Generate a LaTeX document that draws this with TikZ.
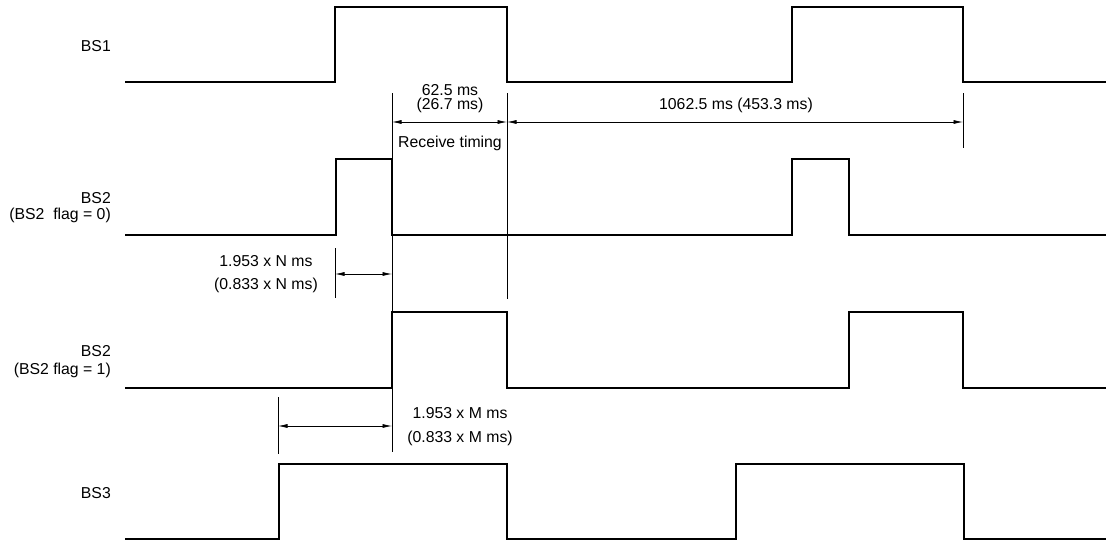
\documentclass[tikz,border=0pt]{standalone}
\usepackage{fontspec}
\setmainfont{Liberation Sans}
\usetikzlibrary{arrows.meta}
\begin{document}
\begin{tikzpicture}[x=1pt,y=-1pt,
  sig/.style={line width=1.5pt,line join=miter},
  ext/.style={line width=0.8pt},
  dim/.style={line width=0.7pt,{Latex[length=9.5pt,width=4pt]}-{Latex[length=9.5pt,width=4pt]}},
  lbl/.style={font=\fontsize{15.8}{18}\selectfont,inner sep=0pt,anchor=base east},
  txt/.style={font=\fontsize{15.8}{18}\selectfont,inner sep=0pt,anchor=base}]
\useasboundingbox (0,0) rectangle (1106,541);
% signals
\draw[sig] (125,82) -- (335,82) -- (335,7) -- (507,7) -- (507,82) -- (792,82) -- (792,7) -- (963,7) -- (963,82) -- (1106,82);
\draw[sig] (125,235) -- (336,235) -- (336,159) -- (392,159) -- (392,235) -- (792,235) -- (792,159) -- (849,159) -- (849,235) -- (1106,235);
\draw[sig] (125,388) -- (392,388) -- (392,312) -- (507,312) -- (507,388) -- (849,388) -- (849,312) -- (963,312) -- (963,388) -- (1106,388);
\draw[sig] (125,539) -- (279,539) -- (279,464) -- (507,464) -- (507,539) -- (736,539) -- (736,464) -- (964,464) -- (964,539) -- (1106,539);
% labels
\node[lbl] (bs1) at (111,51) {BS1};
\node[lbl] (bs2a) at (111,203) {BS2};
\node[lbl] (bs2af) at (111,219) {(BS2~ flag = 0)};
\node[lbl] (bs2b) at (111,356) {BS2};
\node[lbl] (bs2bf) at (111,374) {(BS2 flag = 1)};
\node[lbl] (bs3) at (111,498) {BS3};
% extension lines
\coordinate (e1t) at (392,93); \coordinate (e1b) at (392,452);
\coordinate (e2t) at (507,93); \coordinate (e2b) at (507,299);
\coordinate (e3t) at (963,93); \coordinate (e3b) at (963,148);
\coordinate (e4t) at (335,248); \coordinate (e4b) at (335,298);
\coordinate (e5t) at (278,397); \coordinate (e5b) at (278,454);
\draw[ext] (e1t) -- (e1b);
\draw[ext] (e2t) -- (e2b);
\draw[ext] (e3t) -- (e3b);
\draw[ext] (e4t) -- (e4b);
\draw[ext] (e5t) -- (e5b);
% dimension arrows
\coordinate (a1) at (392,122); \coordinate (a2) at (507,122); \coordinate (a3) at (963,122);
\coordinate (b1) at (335,274); \coordinate (b2) at (392,274);
\coordinate (c1) at (278,426); \coordinate (c2) at (392,426);
\draw[dim] (a1) -- (a2);
\draw[dim] (a2) -- (a3);
\draw[dim] (b1) -- (b2);
\draw[dim] (c1) -- (c2);
% dimension texts
\node[txt] (t1) at (450,95) {62.5 ms};
\node[txt] (t2) at (450,109) {(26.7 ms)};
\node[txt] (t3) at (450,147) {Receive timing};
\node[txt] (t4) at (736,109) {1062.5 ms (453.3 ms)};
\node[txt] (t5) at (266,266) {1.953 x N ms};
\node[txt] (t6) at (266,289) {(0.833 x N ms)};
\node[txt] (t7) at (460,418) {1.953 x M ms};
\node[txt] (t8) at (460,442) {(0.833 x M ms)};
\end{tikzpicture}
\end{document}
